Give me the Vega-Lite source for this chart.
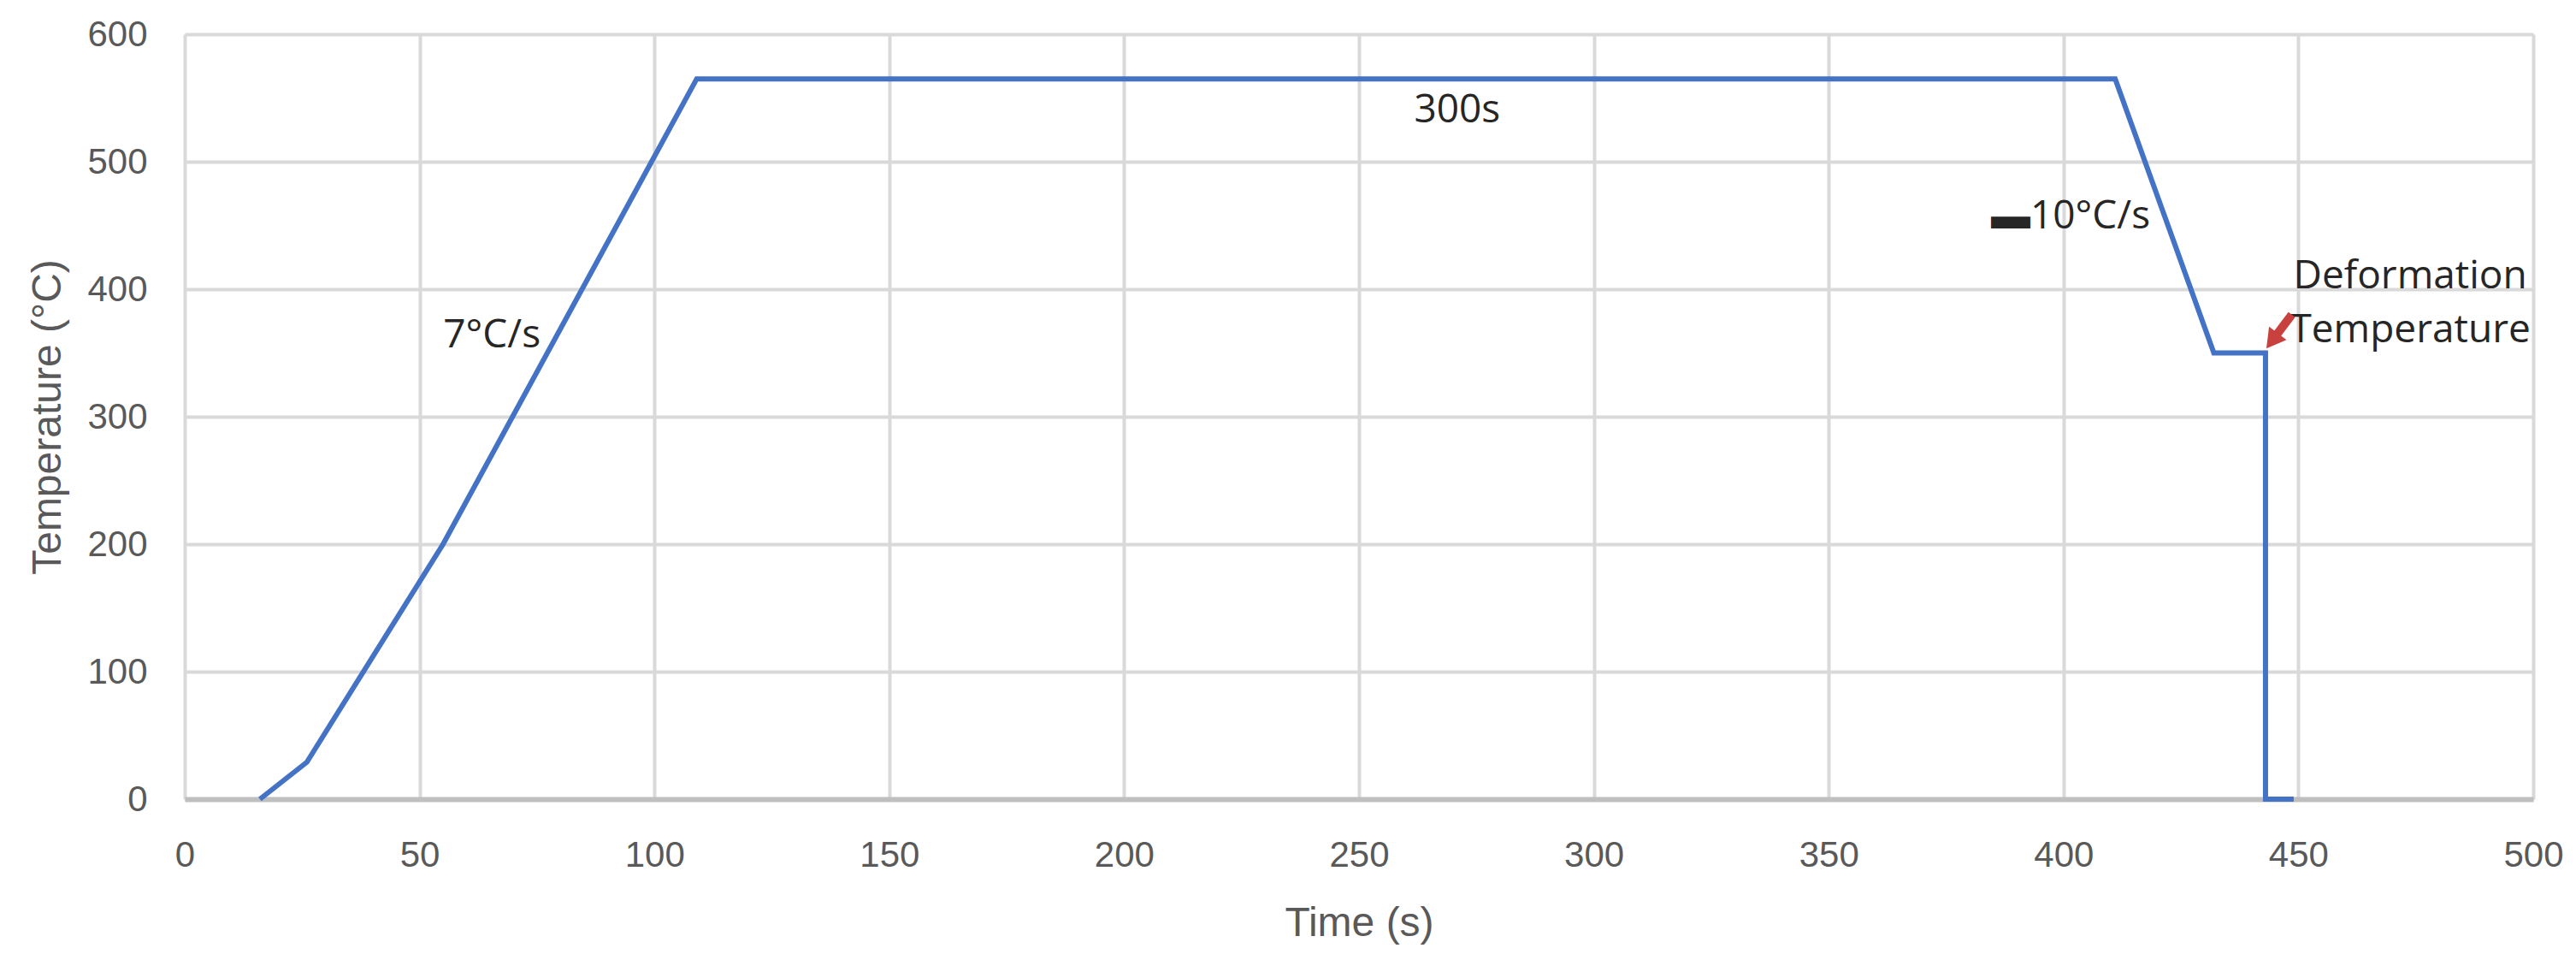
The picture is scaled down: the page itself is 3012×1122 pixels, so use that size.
{
  "$schema": "https://vega.github.io/schema/vega-lite/v6.json",
  "width": 2746,
  "height": 894,
  "autosize": "none",
  "padding": {"left": 216, "top": 40, "right": 50, "bottom": 188},
  "background": "white",
  "config": {"view": {"stroke": null}, "font": "Liberation Sans"},
  "datasets": {
    "profile": [
      {"time": 16, "temp": 0},
      {"time": 26, "temp": 29},
      {"time": 55, "temp": 200},
      {"time": 109, "temp": 565},
      {"time": 411, "temp": 565},
      {"time": 432, "temp": 350},
      {"time": 443, "temp": 350},
      {"time": 443, "temp": 0},
      {"time": 449, "temp": 0}
    ],
    "labels": [
      {"time": 65.4, "temp": 364, "label": "7°C/s"},
      {"time": 270.9, "temp": 540, "label": "300s"},
      {"time": 401.5, "temp": 457, "label": "▬10°C/s"},
      {"time": 473.8, "temp": 410, "label": "Deformation\nTemperature"}
    ],
    "arrow": [
      {"time": 448.6, "temp": 380, "time2": 444.5, "temp2": 360}
    ],
    "arrowhead": [
      {"time": 444.4, "temp": 359.5}
    ]
  },
  "encoding": {
    "x": {
      "field": "time",
      "type": "quantitative",
      "scale": {"domain": [0, 500], "nice": false, "zero": false},
      "axis": {
        "values": [0, 50, 100, 150, 200, 250, 300, 350, 400, 450, 500],
        "title": "Time (s)",
        "grid": true,
        "gridColor": "#d9d9d9",
        "gridWidth": 4,
        "domainColor": "#bfbfbf",
        "domainWidth": 6,
        "ticks": false,
        "labelPadding": 45,
        "labelFontSize": 42,
        "labelColor": "#595959",
        "labelFont": "Liberation Sans",
        "labelFlush": false,
        "labelOverlap": false,
        "titleFont": "Liberation Sans",
        "titleFontSize": 48,
        "titleFontWeight": "normal",
        "titleColor": "#595959",
        "titleX": 1373,
        "titleY": 159,
        "titleAlign": "center",
        "titleBaseline": "alphabetic"
      }
    },
    "y": {
      "field": "temp",
      "type": "quantitative",
      "scale": {"domain": [0, 600], "nice": false},
      "axis": {
        "values": [0, 100, 200, 300, 400, 500, 600],
        "title": "Temperature (°C)",
        "grid": true,
        "gridColor": "#d9d9d9",
        "gridWidth": 4,
        "domain": false,
        "ticks": false,
        "labelPadding": 44,
        "labelFontSize": 42,
        "labelColor": "#595959",
        "labelFont": "Liberation Sans",
        "labelFlush": false,
        "labelOverlap": false,
        "titleFont": "Liberation Sans",
        "titleFontSize": 48,
        "titleFontWeight": "normal",
        "titleColor": "#595959",
        "titleX": -160,
        "titleY": 447,
        "titleAngle": -90,
        "titleAlign": "center",
        "titleBaseline": "middle"
      }
    }
  },
  "layer": [
    {
      "data": {"name": "profile"},
      "mark": {"type": "line", "color": "#4472C4", "strokeWidth": 6, "strokeJoin": "miter"},
      "encoding": {"order": {"value": null}}
    },
    {
      "data": {"name": "labels"},
      "mark": {
        "type": "text",
        "font": "Open Sans",
        "fontSize": 46,
        "color": "#262626",
        "align": "center",
        "baseline": "middle",
        "lineBreak": "\n",
        "lineHeight": 63
      },
      "encoding": {"text": {"field": "label", "type": "nominal"}}
    },
    {
      "data": {"name": "arrow"},
      "mark": {"type": "rule", "color": "#C8413E", "strokeWidth": 10},
      "encoding": {
        "x2": {"field": "time2"},
        "y2": {"field": "temp2"}
      }
    },
    {
      "data": {"name": "arrowhead"},
      "mark": {"type": "point", "shape": "triangle-up", "filled": true, "color": "#C8413E", "opacity": 1, "size": 650, "angle": 217},
      "encoding": {}
    }
  ]
}
